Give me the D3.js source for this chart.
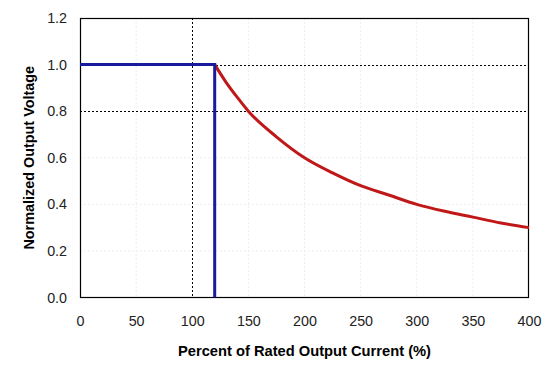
<!DOCTYPE html>
<html><head><meta charset="utf-8">
<script src="https://cdn.jsdelivr.net/npm/d3@7"></script>
<style>body{margin:0;background:#fff}svg{display:block}</style>
</head><body>
<svg id="c" width="554" height="367"></svg>
<script>
const xTicks = [0, 50, 100, 150, 200, 250, 300, 350, 400];
const yTicks = [0.0, 0.2, 0.4, 0.6, 0.8, 1.0, 1.2];
const darkGridY = [0.8, 1.0];
const darkGridX = [100];
const faintGridY = [0.2, 0.4, 0.6];
const faintGridX = [50, 150, 200, 250, 300, 350];
const blueX = [0, 120, 120];
const blueY = [1.0, 1.0, 0.0];
const redX = [120, 130, 140, 150, 175, 200, 225, 250, 275, 300, 325, 350, 375, 400];
const redY = [1.0, 0.925, 0.86, 0.80, 0.69, 0.60, 0.535, 0.48, 0.44, 0.40, 0.37, 0.345, 0.32, 0.30];
const xTitle = "Percent of Rated Output Current (%)";
const yTitle = "Normalized Output Voltage";

const svg = d3.select("#c");
const L = 80, R = 529, T = 18, B = 297.5;
const x = d3.scaleLinear().domain([0, 400]).range([L, R]);
const y = d3.scaleLinear().domain([0, 1.2]).range([B, T]);
const font = "'Liberation Sans', Arial, sans-serif";

// faint grid
svg.append("g").selectAll("line").data(faintGridY).join("line")
  .attr("x1", L).attr("x2", R).attr("y1", d => y(d)).attr("y2", d => y(d))
  .attr("stroke", "#ededed").attr("stroke-dasharray", "2,2");
svg.append("g").selectAll("line").data(faintGridX).join("line")
  .attr("y1", T).attr("y2", B).attr("x1", d => x(d)).attr("x2", d => x(d))
  .attr("stroke", "#ededed").attr("stroke-dasharray", "2,2");
// dark grid
svg.append("g").selectAll("line").data(darkGridY).join("line")
  .attr("x1", L).attr("x2", R).attr("y1", d => Math.round(y(d)) + 0.5).attr("y2", d => Math.round(y(d)) + 0.5)
  .attr("stroke", "#000").attr("stroke-dasharray", "2,2");
svg.append("g").selectAll("line").data(darkGridX).join("line")
  .attr("y1", T).attr("y2", B).attr("x1", d => Math.round(x(d)) + 0.5).attr("x2", d => Math.round(x(d)) + 0.5)
  .attr("stroke", "#000").attr("stroke-dasharray", "2,2");

// frame
svg.append("rect").attr("x", L + 0.5).attr("y", T + 0.5).attr("width", R - L - 1).attr("height", B - T - 0.5)
  .attr("fill", "none").attr("stroke", "#000").attr("stroke-width", 1.2);

// axes (labels only)
const xa = svg.append("g").attr("transform", `translate(0,${B})`)
  .call(d3.axisBottom(x).tickValues(xTicks).tickSize(0).tickPadding(18).tickFormat(d3.format("d")));
xa.select(".domain").remove();
xa.selectAll("text").attr("font-family", font).attr("font-size", 14.3).attr("fill", "#222");
const ya = svg.append("g").attr("transform", `translate(${L},0)`)
  .call(d3.axisLeft(y).tickValues(yTicks).tickSize(0).tickPadding(13).tickFormat(d3.format(".1f")));
ya.select(".domain").remove();
ya.selectAll("text").attr("font-family", font).attr("font-size", 14.3).attr("fill", "#222");

// series
const line = d3.line().x(d => x(d[0])).y(d => y(d[1]));
svg.append("path").datum(redX.map((v, i) => [v, redY[i]]))
  .attr("d", line.curve(d3.curveMonotoneX)).attr("fill", "none")
  .attr("stroke", "#c01818").attr("stroke-width", 3);
svg.append("path").datum(blueX.map((v, i) => [v, blueY[i]]))
  .attr("d", d3.line().x(d => x(d[0])).y(d => y(d[1]))).attr("fill", "none")
  .attr("stroke", "#1a1a9c").attr("stroke-width", 3);

// titles
svg.append("text").attr("x", (L + R) / 2).attr("y", 356).attr("text-anchor", "middle")
  .attr("font-family", font).attr("font-size", 14.7).attr("font-weight", "bold").attr("fill", "#000").text(xTitle);
svg.append("text").attr("transform", `translate(34,${(T + B) / 2}) rotate(-90)`).attr("text-anchor", "middle")
  .attr("font-family", font).attr("font-size", 14.4).attr("font-weight", "bold").attr("fill", "#000").text(yTitle);
</script>
</body></html>
